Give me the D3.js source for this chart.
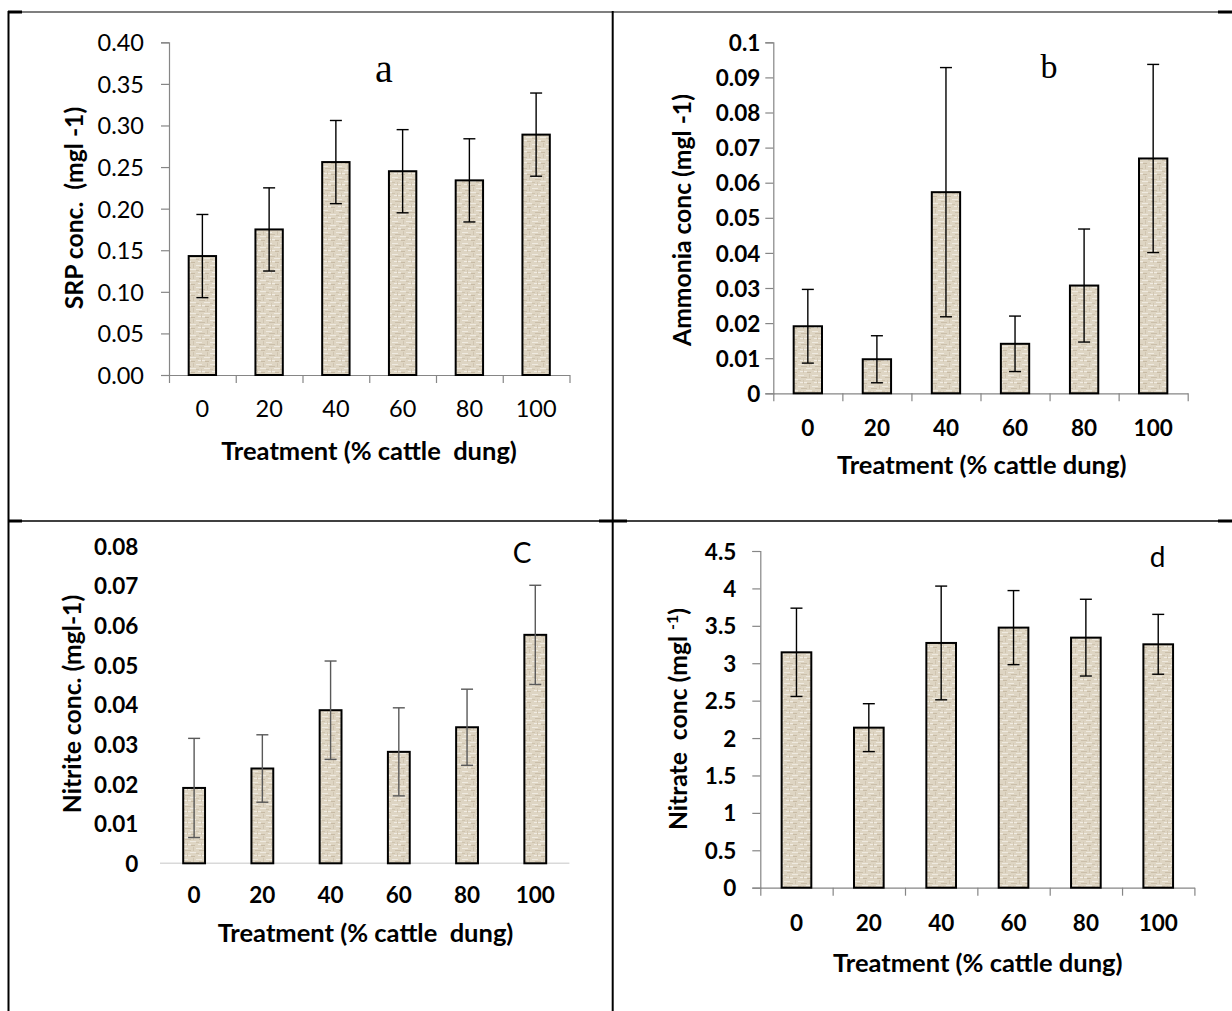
<!DOCTYPE html>
<html>
<head>
<meta charset="utf-8">
<script src="https://cdn.jsdelivr.net/npm/d3@7/dist/d3.min.js"></script>
<style>
  html, body { margin: 0; padding: 0; background: #fff; }
  svg { display: block; }
  text { white-space: pre; }
</style>
</head>
<body>
<script>
// Treatment groups (% cattle dung) shared by all four panels
const categories = ["0", "20", "40", "60", "80", "100"];

// (a) soluble reactive phosphorus, mg/l
const srpMean = [0.143, 0.175, 0.256, 0.245, 0.234, 0.289];
const srpErr  = [0.050, 0.050, 0.050, 0.050, 0.050, 0.050];
const srpTicks = [0, 0.05, 0.10, 0.15, 0.20, 0.25, 0.30, 0.35, 0.40];

// (b) ammonia, mg/l
const ammoniaMean = [0.0191, 0.0097, 0.0573, 0.0141, 0.0307, 0.0669];
const ammoniaErr  = [0.0105, 0.0067, 0.0355, 0.0079, 0.0161, 0.0268];
const ammoniaTicks = [0, 0.01, 0.02, 0.03, 0.04, 0.05, 0.06, 0.07, 0.08, 0.09, 0.1];

// (c) nitrite, mg/l
const nitriteMean = [0.0190, 0.0239, 0.0386, 0.0281, 0.0343, 0.0576];
const nitriteErr  = [0.0125, 0.0085, 0.0124, 0.0111, 0.0096, 0.0125];
const nitriteTicks = [0, 0.01, 0.02, 0.03, 0.04, 0.05, 0.06, 0.07, 0.08];

// (d) nitrate, mg/l
const nitrateMean = [3.146, 2.139, 3.271, 3.476, 3.342, 3.253];
const nitrateErr  = [0.590, 0.320, 0.760, 0.495, 0.513, 0.400];
const nitrateTicks = [0, 0.5, 1, 1.5, 2, 2.5, 3, 3.5, 4, 4.5];

const W = 1232, H = 1011;
const svg = d3.select("body").append("svg").attr("width", W).attr("height", H);
svg.append("rect").attr("width", W).attr("height", H).attr("fill", "#fff");

// woven beige fill used for every bar
const defs = svg.append("defs");
const pat = defs.append("pattern").attr("id", "canvas")
  .attr("patternUnits", "userSpaceOnUse").attr("width", 14).attr("height", 11);
pat.append("rect").attr("width", 14).attr("height", 11).attr("fill", "#ded5c3");
[
  [0, 1, 6, "#efeae0"], [8, 5, 14, "#efeae0"], [2, 8, 9, "#f1ece3"],
  [3, 3, 9, "#cbbfaa"], [9, 9, 13, "#c8bba5"], [0, 6, 3, "#cfc4af"]
].forEach(([xa, yy, xb, c]) => {
  pat.append("rect").attr("x", xa).attr("y", yy).attr("width", xb - xa).attr("height", 1).attr("fill", c);
});
pat.append("rect").attr("x", 11).attr("y", 0).attr("width", 1).attr("height", 4).attr("fill", "#d0c5b1");
pat.append("rect").attr("x", 5).attr("y", 6).attr("width", 1).attr("height", 4).attr("fill", "#d3c8b4");

const SANS = "Lato, 'Open Sans', sans-serif";
const SERIF = "'Liberation Serif', 'Times New Roman', serif";

const panels = [
  {
    mean: srpMean, err: srpErr, ticks: srpTicks, yMax: 0.40, fmt: d3.format(".2f"),
    x0: 169, x1: 569.5, yTop: 42.3, yBot: 375, barFrac: 0.41,
    style: "framed", tickWeight: "normal", tickSize: 23.5, tickPad: 17, xLabelY: 409,
    xTitle: "Treatment (% cattle  dung)", xTitleX: 369, xTitleY: 451,
    yTitle: [["SRP conc.  (mgl -1)"]], yTitleX: 74, yTitleY: 208,
    tag: "a", tagFont: SERIF, tagSize: 40, tagX: 384, tagY: 82, errColor: "#000"
  },
  {
    mean: ammoniaMean, err: ammoniaErr, ticks: ammoniaTicks, yMax: 0.1, fmt: d3.format("~g"),
    x0: 773.3, x1: 1187.7, yTop: 42.3, yBot: 393.3, barFrac: 0.41,
    style: "framed", tickWeight: "bold", tickSize: 22.5, tickPad: 5, xLabelY: 427.7,
    xTitle: "Treatment (% cattle dung)", xTitleX: 981.7, xTitleY: 465,
    yTitle: [["Ammonia conc (mgl -1)"]], yTitleX: 682, yTitleY: 220,
    tag: "b", tagFont: SERIF, tagSize: 34, tagX: 1049, tagY: 78, errColor: "#000"
  },
  {
    mean: nitriteMean, err: nitriteErr, ticks: nitriteTicks, yMax: 0.08, fmt: d3.format("~g"),
    x0: 160, x1: 569.4, yTop: 546, yBot: 863.3, barFrac: 0.32,
    style: "open", tickWeight: "bold", tickSize: 22.5, tickPad: 21.6, xLabelY: 895,
    xTitle: "Treatment (% cattle  dung)", xTitleX: 365.5, xTitleY: 933,
    yTitle: [["Nitrite conc. (mgl-1)"]], yTitleX: 72, yTitleY: 704,
    tag: "C", tagFont: SANS, tagSize: 28, tagX: 522, tagY: 563, errColor: "#595959"
  },
  {
    mean: nitrateMean, err: nitrateErr, ticks: nitrateTicks, yMax: 4.5, fmt: d3.format("~g"),
    x0: 760.3, x1: 1194.4, yTop: 551, yBot: 887.7, barFrac: 0.41,
    style: "framed", tickWeight: "bold", tickSize: 22.5, tickPad: 16, xLabelY: 923,
    xTitle: "Treatment (% cattle dung)", xTitleX: 977.8, xTitleY: 963,
    yTitle: [["Nitrate  conc (mgl "], ["-1", "sup"], [")"]], yTitleX: 678, yTitleY: 719,
    tag: "d", tagFont: SANS, tagSize: 28, tagX: 1157.5, tagY: 567, errColor: "#000"
  }
];

function drawPanel(p) {
  const g = svg.append("g");
  const y = d3.scaleLinear().domain([0, p.yMax]).range([p.yBot, p.yTop]);
  const gap = 1 - p.barFrac;
  const x = d3.scaleBand().domain(categories).range([p.x0, p.x1])
    .paddingInner(gap).paddingOuter(gap / 2);
  const bounds = d3.scaleLinear().domain([0, categories.length]).range([p.x0, p.x1]);

  // value axis
  const yAxis = d3.axisLeft(y).tickValues(p.ticks).tickFormat(p.fmt)
    .tickSizeOuter(0).tickSize(p.style === "framed" ? 8 : 0).tickPadding(p.tickPad);
  const ya = g.append("g").attr("transform", `translate(${p.x0},0)`).call(yAxis);
  ya.selectAll("line").attr("stroke", "#868686").attr("stroke-width", 1.2);
  ya.select(".domain").attr("stroke", "#868686").attr("stroke-width", 1.2);
  if (p.style !== "framed") ya.select(".domain").remove();
  ya.selectAll("text").attr("font-family", SANS).attr("font-size", p.tickSize)
    .attr("font-weight", p.tickWeight).attr("fill", "#000").attr("dy", "0.36em");

  // category axis: baseline with ticks between groups
  if (p.style === "framed") {
    const xa = g.append("g").attr("transform", `translate(0,${p.yBot})`)
      .call(d3.axisBottom(bounds).tickValues(d3.range(categories.length + 1))
        .tickSize(8).tickSizeOuter(0).tickFormat(""));
    xa.selectAll("line").attr("stroke", "#868686").attr("stroke-width", 1.2);
    xa.select(".domain").attr("stroke", "#868686").attr("stroke-width", 1.2);
  } else {
    g.append("line").attr("x1", p.x0).attr("x2", p.x1)
      .attr("y1", y(0)).attr("y2", y(0))
      .attr("stroke", "#d9d9d9").attr("stroke-width", 1.6);
  }
  const xl = g.append("g").attr("transform", `translate(0,${p.xLabelY})`)
    .call(d3.axisBottom(x).tickSize(0).tickPadding(0));
  xl.select(".domain").remove();
  xl.selectAll("text").attr("font-family", SANS).attr("font-size", p.tickSize)
    .attr("font-weight", p.tickWeight).attr("fill", "#000").attr("dy", "0.36em");

  // bars
  g.append("g").selectAll("rect").data(categories).join("rect")
    .attr("x", c => x(c)).attr("width", x.bandwidth())
    .attr("y", (c, i) => y(p.mean[i]))
    .attr("height", (c, i) => y(0) - y(p.mean[i]))
    .attr("fill", "url(#canvas)").attr("stroke", "#000").attr("stroke-width", 2);

  // error bars (mean ± error)
  const eb = g.append("g").attr("stroke", p.errColor).attr("stroke-width", 1.4);
  categories.forEach((c, i) => {
    const cx = x(c) + x.bandwidth() / 2;
    const hi = y(p.mean[i] + p.err[i]), lo = y(p.mean[i] - p.err[i]);
    eb.append("line").attr("x1", cx).attr("x2", cx).attr("y1", hi).attr("y2", lo);
    eb.append("line").attr("x1", cx - 6).attr("x2", cx + 6).attr("y1", hi).attr("y2", hi);
    eb.append("line").attr("x1", cx - 6).attr("x2", cx + 6).attr("y1", lo).attr("y2", lo);
  });

  // axis titles
  g.append("text").attr("x", p.xTitleX).attr("y", p.xTitleY).attr("dy", "0.36em")
    .attr("text-anchor", "middle").attr("font-family", SANS).attr("font-weight", "bold")
    .attr("font-size", 25.5).attr("fill", "#000").text(p.xTitle);
  const yt = g.append("text")
    .attr("transform", `translate(${p.yTitleX},${p.yTitleY}) rotate(-90)`)
    .attr("dy", "0.36em").attr("text-anchor", "middle")
    .attr("font-family", SANS).attr("font-weight", "bold").attr("font-size", 24.7).attr("fill", "#000");
  p.yTitle.forEach(([s, kind]) => {
    const t = yt.append("tspan").text(s);
    if (kind === "sup") t.attr("font-size", 16).attr("baseline-shift", "super");
  });

  // panel letter
  g.append("text").attr("x", p.tagX).attr("y", p.tagY).attr("text-anchor", "middle")
    .attr("font-family", p.tagFont).attr("font-size", p.tagSize).attr("fill", "#000").text(p.tag);
}

panels.forEach(drawPanel);

// enclosing table rules
const rule = svg.append("g").attr("stroke", "#000");
rule.append("line").attr("x1", 8).attr("x2", W).attr("y1", 12).attr("y2", 12).attr("stroke-width", 1.2);
rule.append("line").attr("x1", 8).attr("x2", W).attr("y1", 521).attr("y2", 521).attr("stroke-width", 1.4);
rule.append("line").attr("x1", 8.5).attr("x2", 8.5).attr("y1", 11).attr("y2", H).attr("stroke-width", 2);
rule.append("line").attr("x1", 612.7).attr("x2", 612.7).attr("y1", 11).attr("y2", H).attr("stroke-width", 2);
[[8, 22, 12], [1218, W, 12], [8, 22, 521], [599, 627, 521], [1218, W, 521]].forEach(([a, b, yy]) => {
  rule.append("line").attr("x1", a).attr("x2", b).attr("y1", yy).attr("y2", yy).attr("stroke-width", 3);
});
</script>
</body>
</html>
